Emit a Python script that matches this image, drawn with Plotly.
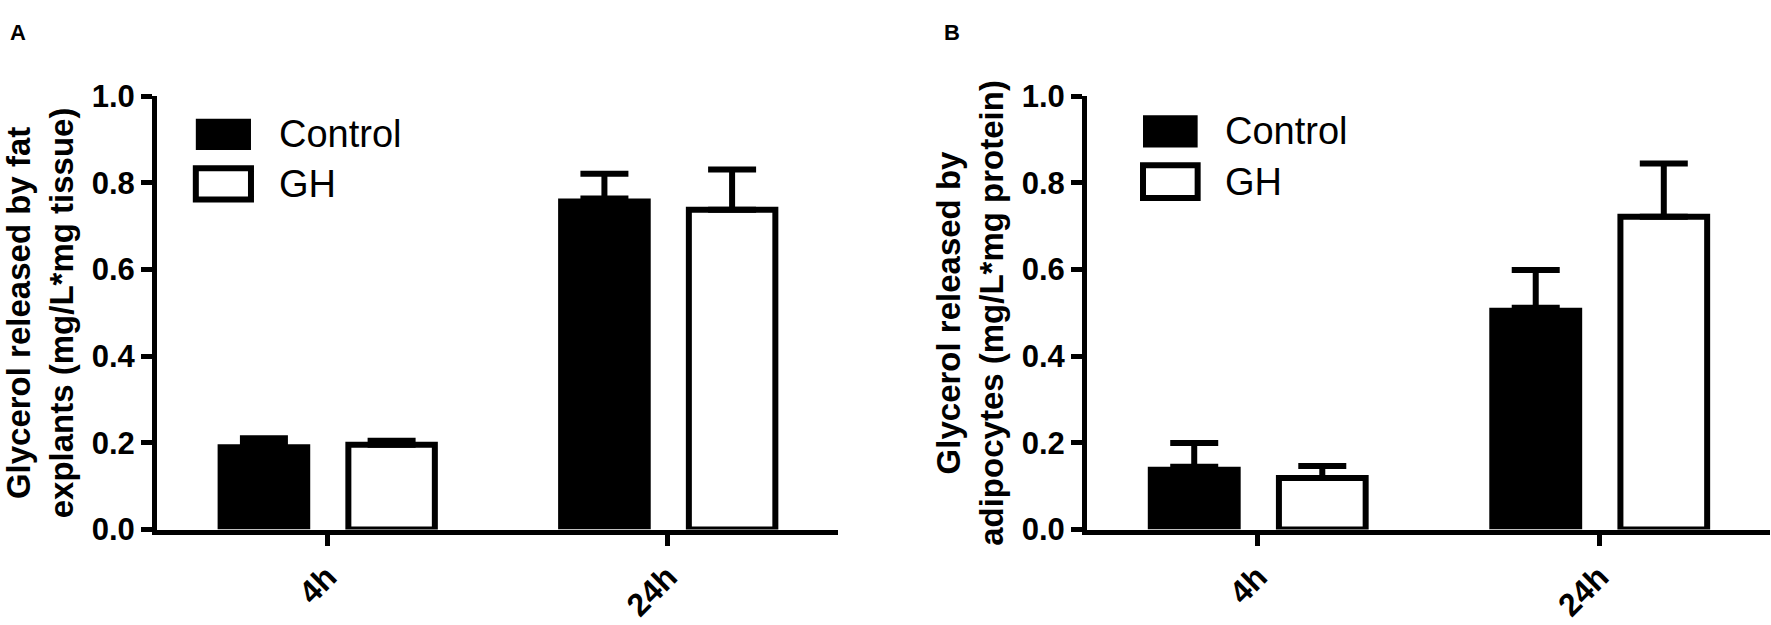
import plotly.graph_objects as go

categories = ["4h", "24h"]
series_names = ["Control", "GH"]
series_fill = ["black", "white"]

# Panel A: glycerol released by fat explants
a_control = [0.197, 0.764]
a_control_err = [0.014, 0.057]
a_gh = [0.196, 0.738]
a_gh_err = [0.009, 0.093]

# Panel B: glycerol released by adipocytes
b_control = [0.145, 0.512]
b_control_err = [0.055, 0.087]
b_gh = [0.119, 0.722]
b_gh_err = [0.028, 0.123]

y_ticks = [0.0, 0.2, 0.4, 0.6, 0.8, 1.0]
y_titles = ["Glycerol released by fat<br>explants (mg/L*mg tissue)",
            "Glycerol released by<br>adipocytes (mg/L*mg protein)"]
panel_labels = ["A", "B"]

FONT = "Liberation Sans, Arial, sans-serif"
AX_LW = 5
BAR_LW = 6

W, H = 1771, 625

fig = go.Figure()

panels = [
    ([a_control, a_gh], [a_control_err, a_gh_err], "x", "y"),
    ([b_control, b_gh], [b_control_err, b_gh_err], "x2", "y2"),
]
offsets = [-0.322, 0.062]
widths = [0.272, 0.254]

for vals, errs, xa, ya in panels:
    for i, name in enumerate(series_names):
        fig.add_trace(go.Bar(
            x=categories, y=vals[i], name=name, xaxis=xa, yaxis=ya,
            offset=offsets[i], width=widths[i],
            marker=dict(color=series_fill[i],
                        line=dict(color="black", width=BAR_LW if i == 1 else 0)),
            error_y=dict(type="data", symmetric=False, array=errs[i],
                         arrayminus=[0] * len(errs[i]),
                         color="black", thickness=6, width=24),
            showlegend=False,
        ))

xdoms = [[157 / W, 838 / W], [1087 / W, 1770 / W]]
ydom = [(H - 543) / H, (H - 84) / H]

axis_common = dict(showline=True, linecolor="black", linewidth=AX_LW, ticks="outside",
                   ticklen=11, tickwidth=AX_LW, tickcolor="black", showgrid=False,
                   zeroline=False, mirror=False)

for k, (xa, ya) in enumerate([("xaxis", "yaxis"), ("xaxis2", "yaxis2")]):
    fig.update_layout(**{
        xa: dict(domain=xdoms[k], anchor="y" if k == 0 else "y2", range=[-0.5, 1.5],
                 type="category", tickangle=-45,
                 tickfont=dict(family=FONT, size=32, color="black", weight="bold"),
                 **axis_common),
        ya: dict(domain=ydom, anchor="x" if k == 0 else "x2", range=[0, 1.0],
                 tickvals=y_ticks, ticktext=[f"{v:.1f}" for v in y_ticks],
                 tickfont=dict(family=FONT, size=31, color="black", weight="bold"),
                 title=dict(text=y_titles[k], standoff=10,
                            font=dict(family=FONT, size=33, color="black", weight="bold")),
                 **axis_common),
    })

# Legend swatches and labels drawn inside each panel (domain-relative)
legend_x = [(0.057, 0.138, 0.176), (0.082, 0.162, 0.199)]
legend_y = [[(0.876, 0.948), (0.762, 0.834)], [(0.882, 0.956), (0.765, 0.841)]]
label_x = [18, 952]

for k in range(2):
    xr = "x domain" if k == 0 else "x2 domain"
    yr = "y domain" if k == 0 else "y2 domain"
    x0, x1, xt = legend_x[k]
    for i, name in enumerate(series_names):
        bot, top = legend_y[k][i]
        fig.add_shape(type="rect", xref=xr, yref=yr, x0=x0, x1=x1, y0=bot, y1=top,
                      fillcolor=series_fill[i],
                      line=dict(color="black", width=BAR_LW if i == 1 else 0))
        fig.add_annotation(xref=xr, yref=yr, x=xt, y=(top + bot) / 2, text=name,
                           showarrow=False, xanchor="left", yanchor="middle",
                           font=dict(family=FONT, size=38, color="black"))
    fig.add_annotation(xref="paper", yref="paper",
                       x=label_x[k] / W, y=1 - 16 / H,
                       text=panel_labels[k], showarrow=False, xanchor="center", yanchor="middle",
                       font=dict(family=FONT, size=22, color="black", weight="bold"))

fig.update_layout(
    width=W, height=H,
    margin=dict(l=0, r=0, t=0, b=0),
    paper_bgcolor="white", plot_bgcolor="white",
    barmode="overlay",
    showlegend=False,
)

fig.write_html("out.html", config={"displayModeBar": False},
               post_script="document.body.style.margin='0';document.body.style.overflow='hidden';")
